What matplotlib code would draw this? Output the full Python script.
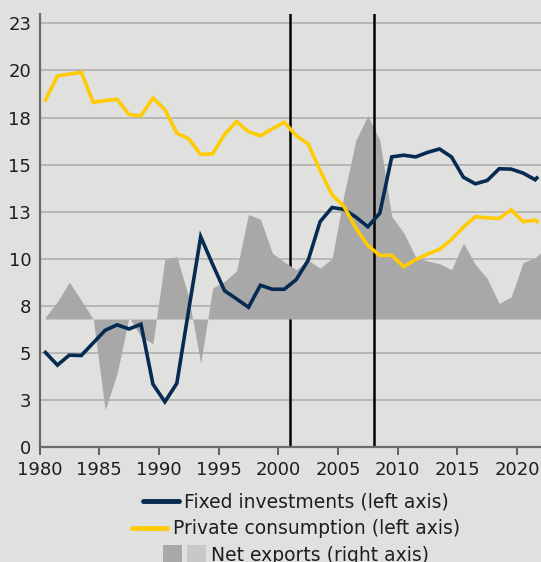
import matplotlib
matplotlib.use("Agg")
import matplotlib.pyplot as plt
import matplotlib.transforms as mtransforms
from matplotlib.lines import Line2D
from matplotlib.patches import Patch
from matplotlib.legend_handler import HandlerTuple
import numpy as np

# ---------------- data ----------------
years = list(range(1980, 2022))          # observed years (plotted mid-year)
forecast_year = 2022

fixed_investments = [5.02, 4.35, 4.88, 4.86, 5.53, 6.2, 6.49, 6.27, 6.52, 3.34,
                     2.40, 3.38, 7.3, 11.17, 9.7, 8.3, 7.87, 7.42, 8.59, 8.38,
                     8.38, 8.89, 9.92, 11.97, 12.72, 12.62, 12.21, 11.7, 12.42, 15.41,
                     15.5, 15.41, 15.65, 15.83, 15.41, 14.33, 13.98, 14.16, 14.78, 14.76,
                     14.55, 14.2]
fixed_investments_fc = 14.8

private_consumption = [18.43, 19.71, 19.81, 19.9, 18.31, 18.4, 18.47, 17.66, 17.59, 18.54,
                       17.92, 16.67, 16.37, 15.54, 15.57, 16.6, 17.29, 16.75, 16.53, 16.9,
                       17.25, 16.54, 16.1, 14.69, 13.4, 12.78, 11.62, 10.7, 10.18, 10.18,
                       9.58, 9.95, 10.25, 10.5, 11.02, 11.68, 12.23, 12.17, 12.14, 12.6,
                       11.97, 12.05]
private_consumption_fc = 11.5

# net exports (right-axis units, zero drawn at NE_ZERO on the left axis)
net_exports = [0.1, 0.92, 1.96, 0.99, 0.0, -4.84, -2.9, 0.1, -0.95, -1.31,
               3.17, 3.31, 1.15, -2.36, 1.64, 2.0, 2.55, 5.55, 5.3, 3.5,
               3.03, 2.62, 3.12, 2.7, 3.2, 6.6, 9.5, 10.8, 9.5, 5.45,
               4.58, 3.3, 3.08, 2.94, 2.62, 4.03, 2.9, 2.14, 0.83, 1.17,
               3.0, 3.25]
net_exports_fc = 3.8
NE_ZERO = 6.8

ytick_values = [0, 2.5, 5, 7.5, 10, 12.5, 15, 17.5, 20, 22.5]
ytick_labels = ["0", "3", "5", "8", "10", "13", "15", "18", "20", "23"]
xtick_values = [1980, 1985, 1990, 1995, 2000, 2005, 2010, 2015, 2020]
event_years = [2001, 2008]

labels = ["Fixed investments (left axis)", "Private consumption (left axis)",
          "Net exports (right axis)"]

# ---------------- style ----------------
BG = "#e0e0df"
NAVY = "#062b52"
YELLOW = "#ffcb05"
DARK_GREY = "#a8a8a8"
LIGHT_GREY = "#c8c8c8"
FONT = "DejaVu Sans"

plt.rcParams["font.family"] = [FONT]

W, H = 541, 562
fig = plt.figure(figsize=(W / 100, H / 100), dpi=100, facecolor=BG)
ax = fig.add_axes([39.5 / W, (H - 447) / H, (W - 39.5) / W, (447 - 14) / H])
ax.set_facecolor(BG)

x = np.array(years) + 0.5
x_all = np.append(x, forecast_year + 0.5)

# grid
ax.set_axisbelow(True)
ax.set_yticks(ytick_values)
ax.set_yticklabels(ytick_labels)
ax.yaxis.grid(True, color="#b6b6b6", linewidth=1.4, zorder=0.5)
ax.xaxis.grid(False)

# event lines
ax.axvline(event_years[0], color="black", linewidth=1.8, zorder=1.5)
ax.axvline(event_years[1], color="black", linewidth=1.8, zorder=2.5)

# net exports area
ne_trans = mtransforms.Affine2D().translate(0, NE_ZERO) + ax.transData
ne_all = np.append(net_exports, net_exports_fc)
ax.fill_between(x_all, 0, ne_all, color=DARK_GREY, linewidth=0,
                transform=ne_trans, zorder=2)

# lines
ax.plot(x, fixed_investments, color=NAVY, linewidth=2.6, zorder=3,
        solid_joinstyle="miter")
ax.plot([x[-1], forecast_year + 0.5], [fixed_investments[-1], fixed_investments_fc],
        color=NAVY, linewidth=2.6, linestyle=(0, (1.2, 1.6)), zorder=3)
ax.plot(x, private_consumption, color=YELLOW, linewidth=2.6, zorder=3,
        solid_joinstyle="miter")
ax.plot([x[-1], forecast_year + 0.5], [private_consumption[-1], private_consumption_fc],
        color=YELLOW, linewidth=2.6, linestyle=(0, (1.2, 1.6)), zorder=3)

ax.set_xlim(1980, 2022)
ax.set_ylim(0, 23)
ax.set_xticks(xtick_values)
ax.set_xticklabels([str(v) for v in xtick_values])

for s in ["top", "right"]:
    ax.spines[s].set_visible(False)
ax.spines["left"].set_color("#6a6a6a")
ax.spines["left"].set_linewidth(1.6)
ax.spines["bottom"].set_color("#6a6a6a")
ax.spines["bottom"].set_linewidth(1.6)

ax.tick_params(axis="y", length=0, pad=6, labelsize=13, labelcolor="#1e1e1e")
ax.tick_params(axis="x", length=6, width=1.2, color="#4a4a4a", pad=4,
               labelsize=13, labelcolor="#1e1e1e", direction="out")

# legends (each row centred separately)
h1 = Line2D([], [], color=NAVY, linewidth=3.5, solid_capstyle="round")
h2 = Line2D([], [], color=YELLOW, linewidth=3.5, solid_capstyle="round")
h3 = (Patch(facecolor=DARK_GREY, edgecolor="none"),
      Patch(facecolor=LIGHT_GREY, edgecolor="none"))
leg_font = {"family": [FONT], "size": 13.5}
common = dict(frameon=False, prop=leg_font, handlelength=1.9, handletextpad=0.3,
              borderpad=0, borderaxespad=0, labelcolor="#1e1e1e")
cx = 296 / W
leg1 = fig.legend([h1], [labels[0]], loc="center", bbox_to_anchor=(cx, 1 - 502 / H), **common)
leg2 = fig.legend([h2], [labels[1]], loc="center", bbox_to_anchor=(cx, 1 - 529 / H), **common)
leg3 = fig.legend([h3], [labels[2]], loc="center", bbox_to_anchor=(cx, 1 - 555 / H),
                  handler_map={tuple: HandlerTuple(ndivide=None, pad=0.27)},
                  frameon=False, prop=leg_font, handlelength=2.3, handleheight=1.2,
                  handletextpad=0.3, borderpad=0, borderaxespad=0, labelcolor="#1e1e1e")

fig.savefig("out.png", dpi=100, facecolor=BG)
